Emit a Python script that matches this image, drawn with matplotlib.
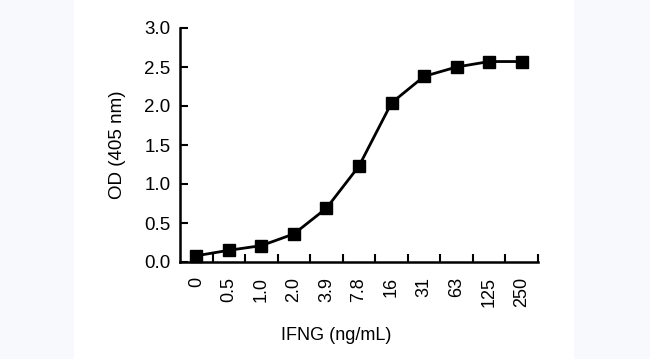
import matplotlib
matplotlib.use("Agg")
import matplotlib.pyplot as plt

conc_labels = ["0", "0.5", "1.0", "2.0", "3.9", "7.8", "16", "31", "63", "125", "250"]
od_values = [0.08, 0.15, 0.21, 0.36, 0.69, 1.23, 2.04, 2.38, 2.50, 2.57, 2.57]
y_ticks = [0.0, 0.5, 1.0, 1.5, 2.0, 2.5, 3.0]

plt.rcParams["font.family"] = ["Liberation Sans", "DejaVu Sans"]

fig = plt.figure(figsize=(6.5, 3.59), dpi=100)
fig.patch.set_facecolor("#f8f9fd")

# white panel behind the chart
bg = fig.add_axes([74 / 650, 0, 500 / 650, 1], zorder=-1)
bg.axis("off")
bg.add_patch(plt.Rectangle((0, 0), 1, 1, transform=bg.transAxes, color="white"))

ax = fig.add_axes([180 / 650, 1 - 262 / 359, 358 / 650, 234 / 359], zorder=1)
ax.patch.set_alpha(0)

x = list(range(len(conc_labels)))
ax.plot(x, od_values, color="black", linewidth=2, marker="s", markersize=8.5,
        clip_on=False, zorder=3)

ax.set_xlim(-0.5, len(conc_labels) - 0.5)
ax.set_ylim(0, 3.0)

ax.set_xticks(x)
ax.set_xticklabels(conc_labels, rotation=90, fontsize=13)
ax.set_xticks([i + 0.5 for i in x], minor=True)
ax.tick_params(axis="x", which="major", length=0, pad=11)
ax.tick_params(axis="x", which="minor", direction="in", length=6, width=1.5)

ax.set_yticks(y_ticks)
ax.set_yticklabels([f"{v:.1f}" for v in y_ticks], fontsize=13.5)
ax.tick_params(axis="y", direction="in", length=6, width=1.5, pad=7)

for s in ["top", "right"]:
    ax.spines[s].set_visible(False)
for s in ["left", "bottom"]:
    ax.spines[s].set_linewidth(1.8)

fig.text(117 / 650, 1 - 145 / 359, "OD (405 nm)", fontsize=13.5, rotation=90,
         ha="center", va="center")
fig.text(336 / 650, 1 - 335 / 359, "IFNG (ng/mL)", fontsize=13, ha="center", va="center")

fig.savefig("out.png", dpi=100, facecolor=fig.get_facecolor())
